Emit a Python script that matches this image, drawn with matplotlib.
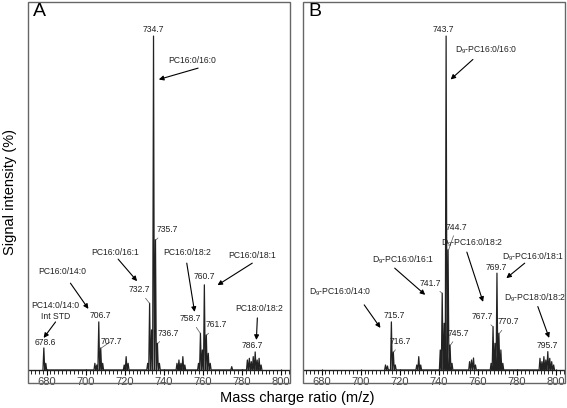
import numpy as np
import matplotlib
matplotlib.use("Agg")
import matplotlib.pyplot as plt
from matplotlib.patches import Rectangle
from matplotlib.ticker import MultipleLocator

plt.rcParams['font.family'] = ['Liberation Sans', 'DejaVu Sans']
plt.rcParams['mathtext.fontset'] = 'custom'
plt.rcParams['mathtext.rm'] = 'Liberation Sans'

# Panel A: peak list (m/z, relative intensity %)
mz_a = [678.6, 679.6, 704.7, 705.7, 706.7, 707.7, 708.7, 719.7, 720.7, 721.7,
        731.7, 732.7, 733.7, 734.7, 735.7, 736.7, 737.7, 746.7, 747.7, 748.7,
        749.7, 750.7, 757.7, 758.7, 759.7, 760.7, 761.7, 762.7, 763.7, 774.7,
        782.7, 783.7, 784.7, 785.7, 786.7, 787.7, 788.7, 789.7]
int_a = [6.6, 2.0, 2.0, 1.5, 14.4, 6.6, 2.0, 1.5, 4.0, 2.0,
         2.0, 20.0, 12.0, 100.0, 39.0, 8.0, 2.0, 2.0, 3.0, 2.0,
         4.0, 1.5, 2.0, 11.0, 6.0, 25.5, 10.5, 5.0, 2.0, 1.0,
         3.0, 3.5, 2.5, 4.0, 5.4, 3.0, 3.5, 1.5]

# Panel B: peak list (m/z, relative intensity %)
mz_b = [712.7, 713.7, 715.7, 716.7, 717.7, 728.7, 729.7, 730.7, 740.7, 741.7,
        742.7, 743.7, 744.7, 745.7, 746.7, 755.7, 756.7, 757.7, 758.7, 766.7,
        767.7, 768.7, 769.7, 770.7, 771.7, 772.7, 791.7, 792.7, 793.7, 794.7,
        795.7, 796.7, 797.7, 798.7]
int_b = [1.5, 1.2, 14.4, 5.4, 1.5, 1.5, 4.0, 1.5, 6.0, 23.0,
         14.0, 100.0, 36.0, 7.5, 2.0, 2.5, 3.0, 3.6, 1.5, 2.0,
         13.0, 8.0, 29.0, 11.0, 6.0, 2.0, 3.5, 2.5, 4.0, 3.0,
         5.5, 3.5, 2.5, 1.5]

# peak value labels: (text, x, y, peak_mz, peak_int) - leader drawn when peak_mz given
vals_a = [("734.7", 734.7, 102.0, None, None),
          ("735.7", 741.5, 42.0, 736.0, 39.0),
          ("732.7", 727.3, 24.0, 732.6, 20.0),
          ("706.7", 707.5, 16.2, None, None),
          ("707.7", 713.0, 8.6, 708.0, 6.6),
          ("678.6", 679.5, 8.2, None, None),
          ("736.7", 742.0, 11.0, 737.0, 8.0),
          ("758.7", 753.7, 15.3, 758.6, 11.0),
          ("760.7", 760.8, 28.0, None, None),
          ("761.7", 766.9, 13.5, 762.0, 10.5),
          ("786.7", 785.2, 7.3, None, None)]
vals_b = [("743.7", 742.3, 102.0, None, None),
          ("744.7", 749.0, 42.8, 745.0, 36.0),
          ("741.7", 735.6, 26.0, 741.6, 23.0),
          ("715.7", 717.4, 16.2, None, None),
          ("716.7", 720.5, 8.6, 717.0, 5.4),
          ("745.7", 750.1, 11.0, 746.0, 7.5),
          ("767.7", 762.0, 16.0, 767.6, 13.0),
          ("769.7", 769.4, 30.8, None, None),
          ("770.7", 775.6, 14.4, 771.0, 11.0),
          ("795.7", 795.3, 7.4, None, None)]

# species labels: (text, x, y, arrow start, arrow end)
names_a = [("PC16:0/16:0", 754.7, 92.8, (757.5, 90.4), (737.4, 87.0)),
           ("PC16:0/16:1", 715.0, 35.3, (716.6, 33.2), (726.3, 26.6)),
           ("PC16:0/14:0", 688.0, 29.6, (692.2, 26.0), (701.4, 18.3)),
           ("PC14:0/14:0\nInt STD", 684.6, 17.7, (684.6, 14.4), (678.5, 9.6)),
           ("PC16:0/18:2", 751.7, 35.3, (751.7, 32.0), (755.7, 17.4)),
           ("PC16:0/18:1", 785.3, 34.4, (785.2, 32.0), (767.4, 25.4)),
           ("PC18:0/18:2", 788.8, 18.5, (787.8, 15.6), (787.3, 9.0))]
d9 = "D$_{\\mathregular{9}}$-"
names_b = [(d9 + "PC16:0/16:0", 764.2, 96.0, (757.4, 93.0), (746.0, 87.0)),
           (d9 + "PC16:0/16:1", 721.6, 33.0, (717.4, 30.5), (733.0, 22.5)),
           (d9 + "PC16:0/14:0", 689.4, 23.4, (701.8, 19.5), (710.1, 12.6)),
           (d9 + "PC16:0/18:2", 756.9, 38.0, (754.3, 35.3), (762.6, 20.4)),
           (d9 + "PC16:0/18:1", 788.0, 34.0, (783.9, 32.0), (774.5, 27.5)),
           (d9 + "PC18:0/18:2", 789.0, 21.5, (790.6, 19.0), (796.4, 9.6))]

W, H = 567, 408
fig = plt.figure(figsize=(W / 100, H / 100), dpi=100)


def draw_panel(left, right, mz, inten, vals, names, letter):
    ax = fig.add_axes([left / W, 1 - 372 / H, (right - left) / W, 370 / H])
    # profile: each peak as a narrow triangle sitting on the baseline
    xs, ys = [], []
    for m, h in sorted(zip(mz, inten)):
        xs += [m - 0.45, m, m + 0.45]
        ys += [0, h, 0]
    ax.plot(xs, ys, color='#222222', lw=0.9)
    ax.axhline(0, color='#222222', lw=1.0)
    ax.set_xlim(670.5, 804.5)
    ax.set_ylim(-0.6, 110.2)
    for s in ['top', 'right', 'left', 'bottom']:
        ax.spines[s].set_visible(False)
    ax.set_yticks([])
    ax.xaxis.set_major_locator(MultipleLocator(20))
    ax.xaxis.set_minor_locator(MultipleLocator(2))
    ax.tick_params(axis='x', which='major', direction='inout', length=5,
                   width=0.8, labelsize=8, labelcolor='#444444', pad=1)
    ax.tick_params(axis='x', which='minor', direction='inout', length=3,
                   width=0.6)
    ax.patch.set_visible(False)

    for txt, x, y, pm, pi in vals:
        if pm is None:
            ax.text(x, y, txt, fontsize=6.2, ha='center', va='center', color='#222222')
        else:
            ax.annotate(txt, xy=(pm, pi), xytext=(x, y), fontsize=6.2,
                        ha='center', va='center', color='#222222',
                        arrowprops=dict(arrowstyle='-', lw=0.5, color='#555555',
                                        shrinkA=1, shrinkB=0))
    for txt, x, y, a0, a1 in names:
        ax.text(x, y, txt, fontsize=6.2, ha='center', va='center',
                color='#222222', linespacing=1.2)
        ax.annotate('', xy=a1, xytext=a0,
                    arrowprops=dict(arrowstyle='-|>', lw=0.8, color='black',
                                    mutation_scale=7, shrinkA=0, shrinkB=0))

    fig.patches.append(Rectangle((left / W, 1 - 383 / H), (right - left) / W,
                                 381 / H, transform=fig.transFigure,
                                 fill=False, ec='#666666', lw=1.0))
    fig.text((left + 5) / W, 1 - 3 / H, letter, fontsize=14, ha='left', va='top')
    return ax


draw_panel(28, 290, mz_a, int_a, vals_a, names_a, "A")
draw_panel(303, 565, mz_b, int_b, vals_b, names_b, "B")

fig.text(297 / W, 1 - 398 / H, "Mass charge ratio (m/z)", fontsize=10.5,
         ha='center', va='center')
fig.text(10 / W, 1 - 192 / H, "Signal intensity (%)", fontsize=10.5,
         ha='center', va='center', rotation=90)

fig.savefig("out.png", dpi=100)
